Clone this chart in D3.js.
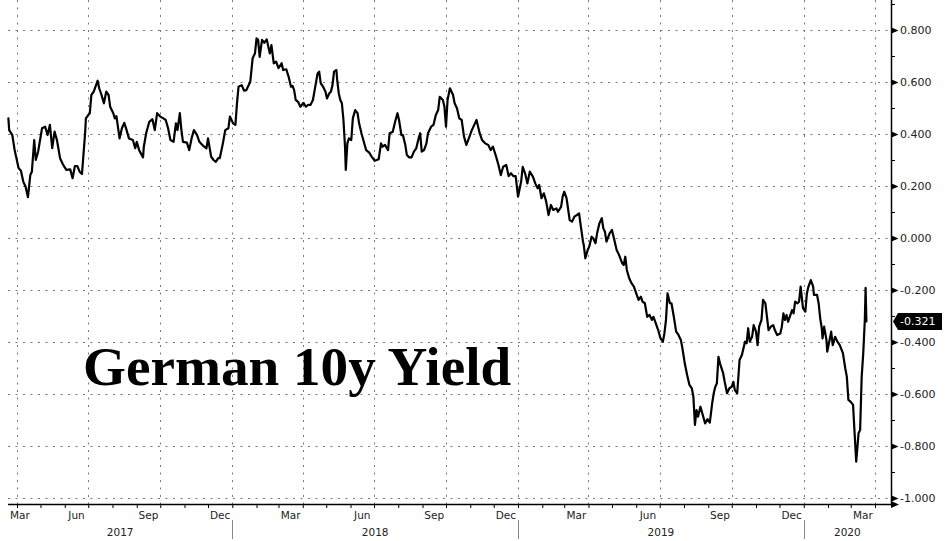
<!DOCTYPE html>
<html><head><meta charset="utf-8">
<script src="https://cdn.jsdelivr.net/npm/d3@7"></script>
<style>body{margin:0;background:#fff}svg{display:block}</style>
</head><body><svg id="c" width="950" height="541"></svg>
<script>
const title = "German 10y Yield";
const lastValue = -0.321;
const yTicks = [0.8, 0.6, 0.4, 0.2, 0.0, -0.2, -0.4, -0.6, -0.8, -1.0];
const yMinorTicks = [0.9, 0.7, 0.5, 0.3, 0.1, -0.1, -0.3, -0.5, -0.7, -0.9];
const quarterMonths = ["Mar", "Jun", "Sep", "Dec"];
const years = ["2017", "2018", "2019", "2020"];

const dates = [
"2017-03-20","2017-03-21","2017-03-25","2017-03-28","2017-04-02","2017-04-05","2017-04-08","2017-04-11","2017-04-14","2017-04-17",
"2017-04-19","2017-04-22","2017-04-24","2017-04-27","2017-05-02","2017-05-06","2017-05-09","2017-05-12","2017-05-15","2017-05-18",
"2017-05-21","2017-05-25","2017-05-29","2017-06-02","2017-06-07","2017-06-10","2017-06-13","2017-06-16","2017-06-19","2017-06-22",
"2017-06-26","2017-06-27","2017-06-30","2017-07-02","2017-07-04","2017-07-07","2017-07-10","2017-07-12","2017-07-14","2017-07-17",
"2017-07-20","2017-07-23","2017-07-26","2017-07-28","2017-08-01","2017-08-03","2017-08-05","2017-08-09","2017-08-12","2017-08-15",
"2017-08-18","2017-08-21","2017-08-26","2017-08-29","2017-08-31","2017-09-03","2017-09-08","2017-09-09","2017-09-12","2017-09-16",
"2017-09-20","2017-09-23","2017-09-26","2017-09-30","2017-10-04","2017-10-07","2017-10-10","2017-10-13","2017-10-17","2017-10-20",
"2017-10-22","2017-10-25","2017-10-27","2017-10-29","2017-11-03","2017-11-06","2017-11-09","2017-11-12","2017-11-16","2017-11-19",
"2017-11-24","2017-11-28","2017-11-30","2017-12-04","2017-12-07","2017-12-10","2017-12-13","2017-12-15","2017-12-19","2017-12-22",
"2017-12-26","2017-12-28",
"2018-01-01","2018-01-04","2018-01-06","2018-01-08","2018-01-12","2018-01-15","2018-01-18","2018-01-23","2018-01-26","2018-01-29",
"2018-01-31","2018-02-02","2018-02-04","2018-02-07","2018-02-10","2018-02-13","2018-02-15","2018-02-17","2018-02-19","2018-02-22",
"2018-02-25","2018-02-28","2018-03-04","2018-03-06","2018-03-10","2018-03-13","2018-03-16","2018-03-18","2018-03-20","2018-03-22",
"2018-03-25","2018-03-28","2018-04-01","2018-04-04","2018-04-07","2018-04-10","2018-04-13","2018-04-16","2018-04-19","2018-04-21",
"2018-04-23","2018-04-26","2018-04-29","2018-05-01","2018-05-04","2018-05-06","2018-05-08","2018-05-10","2018-05-13","2018-05-14",
"2018-05-16","2018-05-18","2018-05-20","2018-05-22","2018-05-24","2018-05-25","2018-05-27","2018-05-29","2018-06-01","2018-06-03",
"2018-06-06","2018-06-09","2018-06-11","2018-06-14","2018-06-17","2018-06-20","2018-06-24","2018-06-27","2018-07-01","2018-07-06",
"2018-07-09","2018-07-11","2018-07-14","2018-07-18","2018-07-20","2018-07-24","2018-07-27","2018-07-30","2018-08-01","2018-08-04",
"2018-08-06","2018-08-09","2018-08-11","2018-08-14","2018-08-17","2018-08-20","2018-08-23","2018-08-26","2018-08-28","2018-08-30",
"2018-09-02","2018-09-05","2018-09-07","2018-09-11","2018-09-14","2018-09-17","2018-09-20","2018-09-22","2018-09-26","2018-09-28",
"2018-09-30","2018-10-02","2018-10-05","2018-10-09","2018-10-11","2018-10-14","2018-10-17","2018-10-20","2018-10-23","2018-10-26",
"2018-10-30","2018-11-02","2018-11-06","2018-11-08","2018-11-12","2018-11-15","2018-11-19","2018-11-23","2018-11-26","2018-11-29",
"2018-12-03","2018-12-06","2018-12-09","2018-12-12","2018-12-16","2018-12-19","2018-12-22","2018-12-25","2018-12-28","2018-12-31",
"2019-01-04","2019-01-06","2019-01-09","2019-01-12","2019-01-15","2019-01-19","2019-01-22","2019-01-25","2019-01-27","2019-01-30",
"2019-02-02","2019-02-05","2019-02-08","2019-02-11","2019-02-14","2019-02-18","2019-02-20","2019-02-24","2019-02-26","2019-02-28",
"2019-03-03","2019-03-07","2019-03-10","2019-03-13","2019-03-16","2019-03-19","2019-03-21","2019-03-24","2019-03-25","2019-03-27",
"2019-03-30","2019-04-01","2019-04-04","2019-04-06","2019-04-09","2019-04-11","2019-04-14","2019-04-17","2019-04-19","2019-04-21",
"2019-04-23","2019-04-27","2019-04-30","2019-05-03","2019-05-06","2019-05-09","2019-05-13","2019-05-15","2019-05-17","2019-05-19",
"2019-05-22","2019-05-25","2019-05-28","2019-05-31","2019-06-03","2019-06-06","2019-06-08","2019-06-11","2019-06-14","2019-06-17",
"2019-06-20","2019-06-22","2019-06-25","2019-06-28","2019-07-01","2019-07-04","2019-07-06","2019-07-08","2019-07-10","2019-07-13",
"2019-07-15","2019-07-18","2019-07-21","2019-07-24","2019-07-27","2019-07-29","2019-08-01","2019-08-04","2019-08-07","2019-08-10",
"2019-08-12","2019-08-14","2019-08-16","2019-08-18","2019-08-21","2019-08-24","2019-08-27","2019-08-30","2019-09-02","2019-09-05",
"2019-09-07","2019-09-09","2019-09-11","2019-09-13","2019-09-15","2019-09-19","2019-09-21","2019-09-24","2019-09-27","2019-09-30",
"2019-10-02","2019-10-04","2019-10-07","2019-10-10","2019-10-13","2019-10-15","2019-10-17","2019-10-19","2019-10-21","2019-10-23",
"2019-10-26","2019-10-28","2019-10-31","2019-11-02","2019-11-04","2019-11-07","2019-11-09","2019-11-12","2019-11-14","2019-11-16",
"2019-11-19","2019-11-22","2019-11-24","2019-11-27","2019-12-01","2019-12-03","2019-12-05","2019-12-07","2019-12-09","2019-12-11",
"2019-12-14","2019-12-16","2019-12-18","2019-12-20","2019-12-23","2019-12-25","2019-12-27","2019-12-30",
"2020-01-02","2020-01-04","2020-01-06","2020-01-09","2020-01-12","2020-01-13","2020-01-17","2020-01-19","2020-01-21","2020-01-23",
"2020-01-24","2020-01-26","2020-01-29","2020-01-30","2020-02-02","2020-02-04","2020-02-06","2020-02-09","2020-02-12","2020-02-15",
"2020-02-19","2020-02-22","2020-02-24","2020-02-26","2020-02-29","2020-03-03","2020-03-04","2020-03-07","2020-03-10","2020-03-12",
"2020-03-14","2020-03-16","2020-03-18","2020-03-19","2020-03-20"
];

const values = [
0.460,0.415,0.396,0.338,0.269,0.259,0.217,0.197,0.157,0.242,
0.255,0.377,0.300,0.332,0.422,0.428,0.396,0.435,0.346,0.409,
0.377,0.307,0.281,0.262,0.264,0.230,0.277,0.277,0.255,0.246,
0.403,0.460,0.473,0.480,0.550,0.563,0.588,0.605,0.576,0.550,
0.518,0.563,0.550,0.505,0.480,0.460,0.469,0.383,0.422,0.443,
0.415,0.383,0.377,0.345,0.370,0.338,0.310,0.351,0.403,0.447,
0.457,0.415,0.480,0.467,0.460,0.454,0.422,0.377,0.370,0.441,
0.415,0.480,0.415,0.370,0.367,0.338,0.383,0.415,0.396,0.370,
0.354,0.345,0.383,0.313,0.300,0.293,0.307,0.307,0.364,0.415,
0.422,0.467,
0.441,0.435,0.518,0.582,0.588,0.567,0.569,0.601,0.691,0.710,
0.768,0.762,0.697,0.762,0.751,0.764,0.736,0.710,0.742,0.672,
0.678,0.653,0.672,0.646,0.649,0.620,0.582,0.585,0.569,0.531,
0.524,0.505,0.520,0.505,0.512,0.512,0.531,0.582,0.633,0.640,
0.595,0.582,0.563,0.537,0.557,0.563,0.588,0.640,0.646,0.608,
0.557,0.531,0.518,0.454,0.351,0.262,0.364,0.383,0.377,0.460,
0.492,0.480,0.441,0.403,0.370,0.338,0.328,0.313,0.297,0.303,
0.364,0.351,0.358,0.338,0.403,0.409,0.447,0.480,0.454,0.396,
0.396,0.358,0.319,0.310,0.310,0.332,0.345,0.383,0.403,0.332,
0.338,0.364,0.403,0.428,0.435,0.473,0.492,0.543,0.531,0.505,
0.428,0.531,0.576,0.550,0.518,0.499,0.460,0.454,0.390,0.358,
0.390,0.415,0.441,0.454,0.403,0.377,0.364,0.358,0.338,0.351,
0.313,0.281,0.242,0.274,0.281,0.238,0.249,0.238,0.238,0.159,
0.217,0.274,0.249,0.210,0.255,0.236,0.210,0.191,0.204,0.153,
0.172,0.140,0.088,0.127,0.108,0.114,0.101,0.120,0.159,0.178,
0.153,0.069,0.063,0.082,0.088,0.095,0.050,-0.014,-0.027,-0.078,
-0.046,-0.033,0.005,-0.001,-0.020,0.018,0.057,0.076,0.037,0.024,
-0.014,0.018,0.031,-0.008,-0.046,-0.065,-0.097,-0.104,-0.072,-0.123,
-0.155,-0.174,-0.187,-0.213,-0.238,-0.226,-0.245,-0.251,-0.303,-0.296,
-0.315,-0.303,-0.328,-0.354,-0.386,-0.399,-0.367,-0.315,-0.213,-0.251,
-0.251,-0.303,-0.360,-0.373,-0.392,-0.424,-0.482,-0.527,-0.565,-0.578,
-0.610,-0.719,-0.662,-0.687,-0.649,-0.681,-0.713,-0.697,-0.710,-0.636,
-0.597,-0.572,-0.559,-0.457,-0.482,-0.520,-0.553,-0.597,-0.578,-0.572,
-0.553,-0.585,-0.597,-0.469,-0.450,-0.424,-0.399,-0.405,-0.347,-0.399,
-0.380,-0.335,-0.360,-0.412,-0.341,-0.315,-0.238,-0.251,-0.303,-0.354,
-0.341,-0.335,-0.354,-0.373,-0.367,-0.341,-0.290,-0.315,-0.296,-0.322,
-0.296,-0.277,-0.290,-0.245,-0.251,-0.245,-0.187,-0.270,
-0.283,-0.213,-0.187,-0.162,-0.187,-0.219,-0.219,-0.251,-0.309,-0.347,
-0.386,-0.341,-0.392,-0.437,-0.392,-0.360,-0.412,-0.380,-0.399,-0.412,
-0.443,-0.501,-0.533,-0.623,-0.630,-0.642,-0.700,-0.860,-0.751,-0.738,
-0.533,-0.443,-0.315,-0.192,-0.321
];

const plotLeft = 8, plotRight = 891, plotTop = 0, plotBottom = 504;
const parse = d3.timeParse("%Y-%m-%d");
const data = dates.map((d, i) => ({date: parse(d), value: values[i]}));

const x = d3.scaleTime()
  .domain([new Date(2017, 2, 31), new Date(2020, 2, 31)])
  .range([17, 875]);
const y = d3.scaleLinear().domain([-1.0, 0.8]).range([498, 30]);

const svg = d3.select("#c");
svg.append("rect").attr("width", 950).attr("height", 541).attr("fill", "#fff");

// month ends (tick positions)
const monthEnds = d3.timeMonth.range(new Date(2017, 1, 1), new Date(2020, 3, 1))
  .map(m => d3.timeDay.offset(d3.timeMonth.offset(m, 1), -1));
const visibleMonthEnds = monthEnds.filter(d => x(d) >= plotLeft && x(d) <= plotRight);
const quarterEnds = visibleMonthEnds.filter(d => [2, 5, 8, 11].includes(d.getMonth()));

const gridStyle = g => g.attr("stroke", "#777").attr("stroke-width", 1)
  .attr("stroke-dasharray", "2,5.5").attr("fill", "none");

// horizontal gridlines
svg.append("g").call(gridStyle).selectAll("line").data(yTicks).join("line")
  .attr("x1", plotLeft).attr("x2", plotRight)
  .attr("y1", d => Math.round(y(d)) + 0.5).attr("y2", d => Math.round(y(d)) + 0.5);

// vertical gridlines
svg.append("g").call(gridStyle).selectAll("line").data(quarterEnds).join("line")
  .attr("x1", d => Math.round(x(d)) + 0.5).attr("x2", d => Math.round(x(d)) + 0.5)
  .attr("y1", plotTop).attr("y2", plotBottom);

// title
svg.append("text").attr("x", 83).attr("y", 385)
  .attr("font-family", "'Liberation Serif','Times New Roman',serif")
  .attr("font-weight", "bold").attr("font-size", 55.2).attr("fill", "#000")
  .text(title);

// line
const line = d3.line().x(d => x(d.date)).y(d => y(d.value));
svg.append("path").datum(data).attr("d", line)
  .attr("fill", "none").attr("stroke", "#000").attr("stroke-width", 2.2)
  .attr("stroke-linejoin", "round").attr("stroke-linecap", "round");

// x axis ticks
const xAxis = d3.axisBottom(x).tickValues(visibleMonthEnds).tickSize(4).tickFormat("");
const gx = svg.append("g").attr("transform", `translate(0,${plotBottom})`).call(xAxis);
gx.select(".domain").remove();
gx.selectAll(".tick line").attr("stroke", "#000");
svg.append("line").attr("x1", plotLeft).attr("x2", plotRight + 2)
  .attr("y1", plotBottom + 0.5).attr("y2", plotBottom + 0.5)
  .attr("stroke", "#000").attr("stroke-width", 1.3);
svg.append("path")
  .attr("d", `M${plotRight},${plotBottom - 3}L${plotRight + 8},${plotBottom + 0.5}L${plotRight},${plotBottom + 4}Z`)
  .attr("fill", "#000");

// month labels (centered on month span)
const fmtMonth = d3.timeFormat("%b");
const labelFont = "'DejaVu Sans', Verdana, sans-serif";
const mLabels = svg.append("g").attr("font-family", labelFont).attr("font-size", 10.5)
  .attr("fill", "#222").attr("text-anchor", "middle");
quarterEnds.forEach(d => {
  const prev = d3.timeDay.offset(d3.timeMonth.floor(d), -1);
  let mid = (x(prev) + x(d)) / 2;
  const t = mLabels.append("text").attr("y", 518.5).text(fmtMonth(d));
  const w = t.node().getComputedTextLength();
  mid = Math.max(mid, plotLeft + w / 2 + 2);
  t.attr("x", mid);
});

// year separators and labels
const yearEnds = quarterEnds.filter(d => d.getMonth() === 11);
svg.append("g").selectAll("line").data(yearEnds).join("line")
  .attr("x1", d => Math.round(x(d)) + 0.5).attr("x2", d => Math.round(x(d)) + 0.5)
  .attr("y1", 520).attr("y2", 539).attr("stroke", "#888").attr("stroke-width", 1);
const bounds = [plotLeft, ...yearEnds.map(d => x(d)), plotRight];
svg.append("g").attr("font-family", labelFont).attr("font-size", 10.5)
  .attr("fill", "#222").attr("text-anchor", "middle")
  .selectAll("text").data(years).join("text")
  .attr("x", (d, i) => (bounds[i] + bounds[i + 1]) / 2).attr("y", 536)
  .text(d => d);

// y axis
svg.append("line").attr("x1", plotRight + 0.5).attr("x2", plotRight + 0.5)
  .attr("y1", 0).attr("y2", plotBottom + 1).attr("stroke", "#000").attr("stroke-width", 1.5);
const yAxis = d3.axisRight(y).tickValues(yTicks).tickSize(0).tickPadding(9)
  .tickFormat(d => d.toFixed(3));
const gy = svg.append("g").attr("transform", `translate(${plotRight},0)`).call(yAxis);
gy.select(".domain").remove();
gy.selectAll(".tick text").attr("font-family", labelFont).attr("font-size", 11)
  .attr("fill", "#222");
gy.selectAll(".tick").append("path").attr("d", "M0.5,-3L7.5,0L0.5,3Z").attr("fill", "#000");
const yMinor = d3.axisRight(y).tickValues(yMinorTicks).tickSize(4).tickFormat("");
const gym = svg.append("g").attr("transform", `translate(${plotRight},0)`).call(yMinor);
gym.select(".domain").remove();
gym.selectAll(".tick line").attr("stroke", "#000");

// last value label
const ly = y(lastValue);
svg.append("path")
  .attr("d", `M${plotRight + 2},${ly}L${plotRight + 7},${ly - 8.5}L942,${ly - 8.5}L942,${ly + 8.5}L${plotRight + 7},${ly + 8.5}Z`)
  .attr("fill", "#000");
svg.append("text").attr("x", plotRight + 9).attr("y", ly + 4)
  .attr("font-family", labelFont).attr("font-size", 11).attr("fill", "#fff")
  .text(lastValue.toFixed(3));
</script>
</body></html>
